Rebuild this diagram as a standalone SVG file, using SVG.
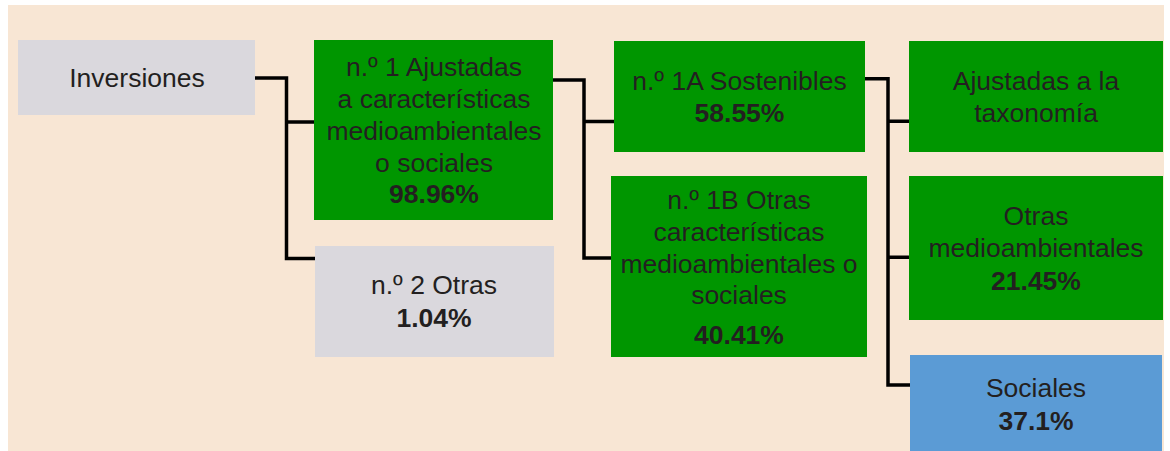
<svg xmlns="http://www.w3.org/2000/svg" width="1170" height="451" viewBox="0 0 1170 451">
<style>
.t{font-family:"Liberation Sans",Arial,sans-serif;font-size:26.5px;fill:#231f20;text-anchor:middle}
.b{font-weight:bold}
.g{fill:#009600}
.gr{fill:#dad8dd}
.bl{fill:#5b9bd5}
.c{fill:none;stroke:#000;stroke-width:3.5;stroke-linejoin:miter}
</style>
<rect x="0" y="0" width="1170" height="451" fill="#ffffff"/>
<rect x="8" y="5" width="1156" height="446" fill="#f8e6d4"/>
<g id="connectors">
<path class="c" d="M255,78 H286.5 V258.5 H315 M286.5,122 H314"/>
<path class="c" d="M553,80 H584 V258 H611 M584,121.5 H614"/>
<path class="c" d="M865,78.7 H888 V385 H910 M888,121.3 H909 M888,257.3 H909"/>
</g>
<g id="inversiones">
<rect class="gr" x="18" y="40" width="237" height="75"/>
<text class="t" x="137" y="87">Inversiones</text>
</g>
<g id="n1">
<rect class="g" x="314" y="40" width="239" height="180"/>
<text class="t" x="434" y="76">n.º 1 Ajustadas</text>
<text class="t" x="434" y="108">a características</text>
<text class="t" x="434" y="140">medioambientales</text>
<text class="t" x="434" y="172">o sociales</text>
<text class="t b" x="434" y="203">98.96%</text>
</g>
<g id="n2">
<rect class="gr" x="315" y="246" width="239" height="111"/>
<text class="t" x="434" y="294">n.º 2 Otras</text>
<text class="t b" x="434" y="327">1.04%</text>
</g>
<g id="n1a">
<rect class="g" x="614" y="41" width="251" height="111"/>
<text class="t" x="739.5" y="90">n.º 1A Sostenibles</text>
<text class="t b" x="739.5" y="122">58.55%</text>
</g>
<g id="n1b">
<rect class="g" x="611" y="176" width="256" height="181"/>
<text class="t" x="739" y="209">n.º 1B Otras</text>
<text class="t" x="739" y="241">características</text>
<text class="t" x="739" y="273">medioambientales o</text>
<text class="t" x="739" y="304">sociales</text>
<text class="t b" x="739" y="344">40.41%</text>
</g>
<g id="taxonomia">
<rect class="g" x="909" y="41" width="254" height="111"/>
<text class="t" x="1036" y="90">Ajustadas a la</text>
<text class="t" x="1036" y="122">taxonomía</text>
</g>
<g id="otras-med">
<rect class="g" x="909" y="176" width="254" height="144"/>
<text class="t" x="1036" y="225">Otras</text>
<text class="t" x="1036" y="257">medioambientales</text>
<text class="t b" x="1036" y="290">21.45%</text>
</g>
<g id="sociales">
<rect class="bl" x="910" y="355" width="252" height="96"/>
<text class="t" x="1036" y="397">Sociales</text>
<text class="t b" x="1036" y="430">37.1%</text>
</g>
</svg>
